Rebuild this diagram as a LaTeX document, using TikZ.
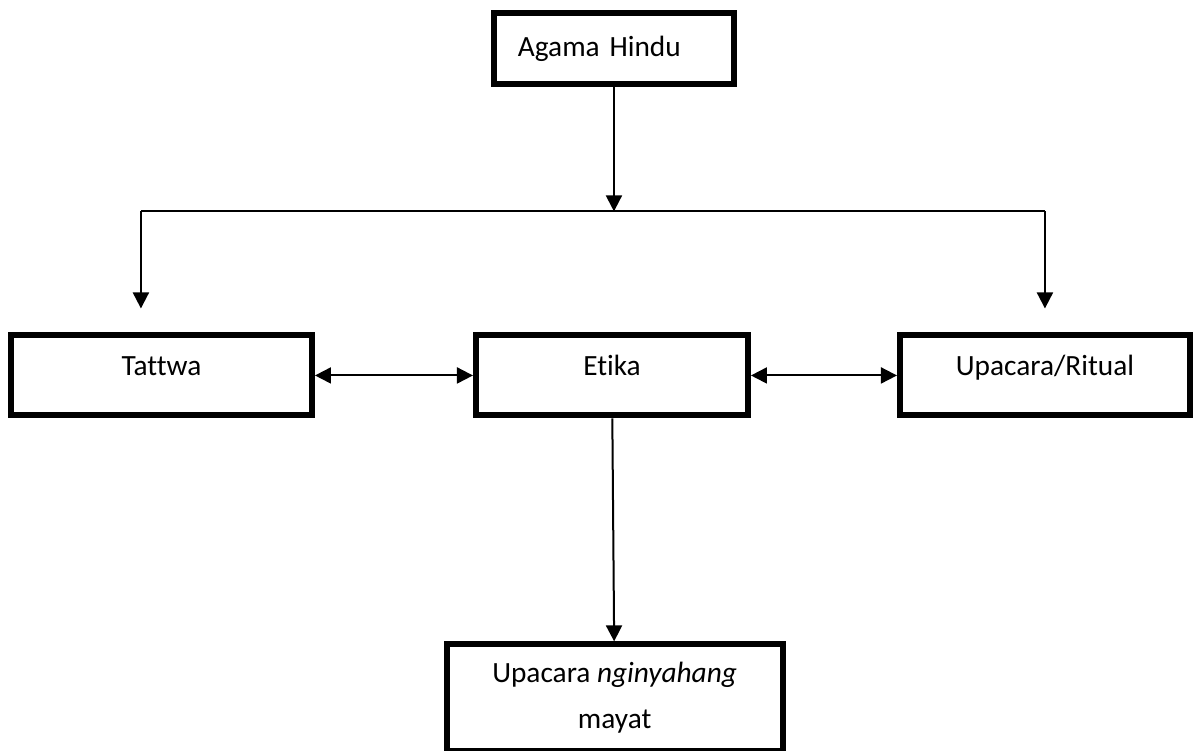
\documentclass[tikz,border=0pt]{standalone}
\usepackage{fontspec}
\setmainfont[Ligatures=NoCommon]{Carlito}
\usetikzlibrary{positioning, arrows.meta}
\tikzstyle{block} = [rectangle, line width=2.25pt, draw=black, text centered]
\tikzstyle{item} = [block, minimum height=30pt, text height=1.5ex, text depth=1.5ex]
\tikzstyle{arrow} = [line width=0.75pt, -{Triangle[length=6pt, width=6pt]}]
\tikzstyle{darrow} = [line width=0.75pt, {Triangle[length=6pt, width=6pt]}-{Triangle[length=6pt, width=6pt]}]

\begin{document}
\begin{tikzpicture}[font=\fontsize{11}{13.6}\selectfont]

    \useasboundingbox (-229.5pt,-140.8pt) rectangle (219.4pt,140.8pt);
    \clip (-229.5pt,-140.8pt) rectangle (219.4pt,140.8pt);

    \node (etika) [item, minimum width=102pt] {Etika};
    \node (tattwa) [item, minimum width=112.9pt, left=59.25pt of etika] {Tattwa};
    \node (ritual) [item, minimum width=108.75pt, right=54.75pt of etika] {Upacara/Ritual};
    \node (agama) [block, above=91.9pt of etika, xshift=0.75pt, text width=72pt, inner xsep=9pt, align=left, minimum height=26.6pt] {\mbox{Agama Hindu}};
    \node (mayat) [block, below=83.6pt of etika, xshift=1pt, minimum width=126pt, minimum height=40.1pt, align=center] {Upacara \textit{nginyahang}\\[3.6pt] mayat};

    \coordinate [below=46.5pt of agama] (split);
    \coordinate [above=9pt of tattwa, xshift=-7.7pt] (ltip);
    \coordinate [above=9pt of ritual] (rtip);

    \draw [arrow] (agama) -- (split);
    \draw [line width=0.75pt] (split -| ltip) -- (split -| rtip);
    \draw [arrow] (split -| ltip) -- (ltip);
    \draw [arrow] (split -| rtip) -- (rtip);
    \draw [darrow] (tattwa) -- (etika);
    \draw [darrow] (etika) -- (ritual);
    \draw [arrow] (etika) -- (mayat);

\end{tikzpicture}
\end{document}
